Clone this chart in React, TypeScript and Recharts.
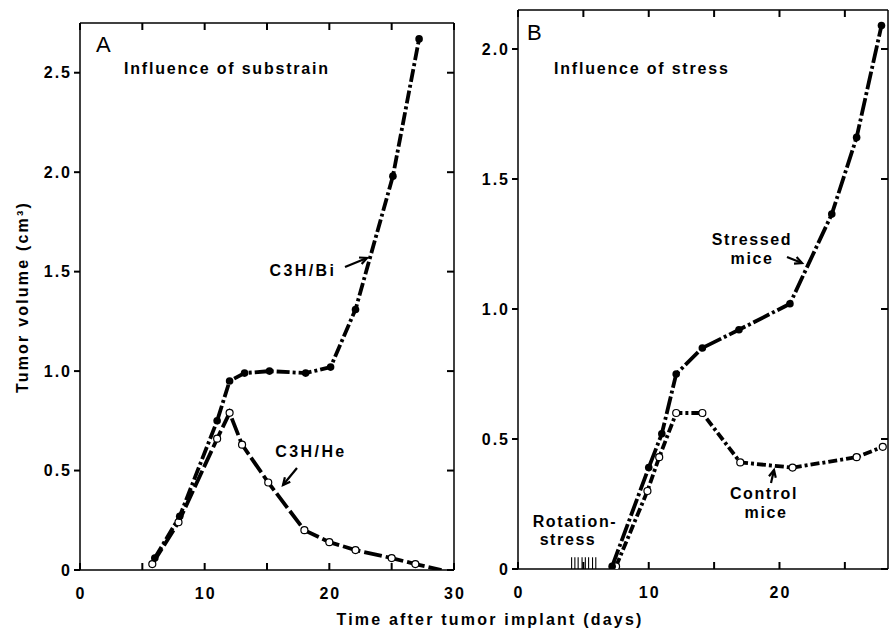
import React from 'react';
import { LineChart, Line, XAxis, YAxis, ReferenceLine } from 'recharts';

// Panel A - influence of substrain
const biDays = [6, 8, 11, 12, 13.2, 15.2, 18.1, 20.1, 22.1, 25.1, 27.2];
const biVolume = [0.06, 0.27, 0.75, 0.95, 0.99, 1.0, 0.99, 1.02, 1.31, 1.98, 2.67];
const heDays = [5.8, 7.9, 11, 12, 13, 15.1, 18, 20, 22.1, 25, 26.9, 29];
const heVolume = [0.03, 0.24, 0.66, 0.79, 0.63, 0.44, 0.2, 0.14, 0.1, 0.06, 0.03, 0];
const heMarked = [true, true, true, true, true, true, true, true, true, true, true, false];

// Panel B - influence of stress
const stressedDays = [7.2, 10, 11, 12.1, 14.1, 16.9, 20.8, 24, 25.9, 27.8];
const stressedVolume = [0.01, 0.39, 0.52, 0.75, 0.85, 0.92, 1.02, 1.365, 1.66, 2.09];
const controlDays = [7.5, 9.9, 10.8, 12.1, 14.1, 17, 21, 25.9, 27.9];
const controlVolume = [0.01, 0.3, 0.43, 0.6, 0.6, 0.41, 0.39, 0.43, 0.47];
const rotationStressDays = [4.1, 4.35, 4.6, 4.9, 5.15, 5.4, 5.7, 5.95];

// axes
const xTicksA = [0, 5, 10, 15, 20, 25, 30];
const xLabelsA = [0, 10, 20, 30];
const yTicksA = [0, 0.5, 1.0, 1.5, 2.0, 2.5];
const xTicksB = [0, 5, 10, 15, 20, 25];
const xLabelsB = [0, 10, 20];
const yTicksB = [0, 0.5, 1.0, 1.5, 2.0];

const biData = biDays.map((day, i) => ({ day, volume: biVolume[i] }));
const heData = heDays.map((day, i) => ({ day, volume: heVolume[i], marked: heMarked[i] }));
const stressedData = stressedDays.map((day, i) => ({ day, volume: stressedVolume[i] }));
const controlData = controlDays.map((day, i) => ({ day, volume: controlVolume[i] }));

const FONT = '"Liberation Sans", Arial, Helvetica, sans-serif';
const tickText = { fill: '#000', fontSize: 16, fontWeight: 700, fontFamily: FONT, letterSpacing: 2 } as const;
const axisStroke = { stroke: '#000', strokeWidth: 1.5 };
const TICK = 7;
const Y_AXIS_W = 50;
const X_AXIS_H = 30;

const fmtY = (v: number) => (v === 0 ? '0' : v.toFixed(1));

// bottom axis: inward tick + label; tickSize/tickMargin are 0 so y is the axis line
const bottomTick = (labels: number[]) => (props: any) => {
  const { x, y, payload, index } = props;
  const v = payload.value;
  return (
    <g key={`b-${index}`}>
      <path d={`M${x},${y}V${y - TICK}`} stroke="#000" strokeWidth={2} fill="none" />
      {labels.includes(v) && (
        <text x={x + 1} y={y + 29} textAnchor="middle" {...tickText}>{v}</text>
      )}
    </g>
  );
};

const FilledDot = (props: any) => {
  const { cx, cy, index } = props;
  if (cx == null || cy == null) return null;
  return <circle key={`f-${index}`} cx={cx} cy={cy} r={3.8} fill="#000" />;
};

const OpenDot = (props: any) => {
  const { cx, cy, index, payload } = props;
  if (cx == null || cy == null || payload?.marked === false) return null;
  return <circle key={`o-${index}`} cx={cx} cy={cy} r={3.5} fill="#fff" stroke="#000" strokeWidth={1.2} />;
};

const Arrow = ({ x1, y1, x2, y2 }: { x1: number; y1: number; x2: number; y2: number }) => {
  const a = Math.atan2(y2 - y1, x2 - x1);
  const len = 8;
  const spread = 0.45;
  const p1 = [x2 - len * Math.cos(a - spread), y2 - len * Math.sin(a - spread)];
  const p2 = [x2 - len * Math.cos(a + spread), y2 - len * Math.sin(a + spread)];
  return (
    <g>
      <line x1={x1} y1={y1} x2={x2} y2={y2} stroke="#000" strokeWidth={2.2} />
      <polyline points={`${p1[0]},${p1[1]} ${x2},${y2} ${p2[0]},${p2[1]}`} fill="none" stroke="#000" strokeWidth={2.2} />
    </g>
  );
};

type Frame = {
  width: number;
  height: number;
  margin: { top: number; right: number; bottom: number; left: number };
  xMax: number;
  yMax: number;
  xTicks: number[];
  xLabels: number[];
  yTicks: number[];
};

const frameA: Frame = {
  width: 470,
  height: 628,
  margin: { top: 23, right: 16, bottom: 28, left: 30 },
  xMax: 30,
  yMax: 2.75,
  xTicks: xTicksA,
  xLabels: xLabelsA,
  yTicks: yTicksA,
};

const frameB: Frame = {
  width: 429,
  height: 628,
  margin: { top: 10, right: 1, bottom: 29, left: 8 },
  xMax: 28.3,
  yMax: 2.15,
  xTicks: xTicksB,
  xLabels: xLabelsB,
  yTicks: yTicksB,
};

// tick length in data units
const tickDx = (f: Frame) => (TICK * f.xMax) / (f.width - f.margin.left - f.margin.right - Y_AXIS_W);
const tickDy = (f: Frame) => (TICK * f.yMax) / (f.height - f.margin.top - f.margin.bottom - X_AXIS_H);

const axesFor = (f: Frame) => [
  <XAxis
    key="xb"
    dataKey="day"
    type="number"
    domain={[0, f.xMax]}
    ticks={f.xTicks}
    interval={0}
    allowDataOverflow
    tick={bottomTick(f.xLabels)}
    tickSize={0}
    tickMargin={0}
    height={X_AXIS_H}
    axisLine={axisStroke}
    tickLine={false}
  />,
  <XAxis
    key="xt"
    xAxisId="top"
    orientation="top"
    mirror
    type="number"
    domain={[0, f.xMax]}
    ticks={f.xTicks}
    tick={false}
    height={1}
    axisLine={axisStroke}
    tickLine={false}
  />,
  <YAxis
    key="yl"
    type="number"
    domain={[0, f.yMax]}
    ticks={f.yTicks}
    interval={0}
    allowDataOverflow
    tickFormatter={fmtY}
    tick={tickText}
    tickSize={6}
    tickMargin={2}
    width={Y_AXIS_W}
    axisLine={axisStroke}
    tickLine={{ stroke: '#000', strokeWidth: 2 }}
  />,
  <YAxis
    key="yr"
    yAxisId="right"
    orientation="right"
    mirror
    type="number"
    domain={[0, f.yMax]}
    ticks={f.yTicks}
    tick={false}
    width={1}
    axisLine={axisStroke}
    tickLine={false}
  />,
];

const dyA = tickDy(frameA);
const dxA = tickDx(frameA);
const dyB = tickDy(frameB);
const dxB = tickDx(frameB);

const PanelA = () => (
  <LineChart width={frameA.width} height={frameA.height} margin={frameA.margin}>
    {axesFor(frameA)}
    {xTicksA.map((t) => (
      <ReferenceLine key={`at-${t}`} segment={[{ x: t, y: frameA.yMax - dyA }, { x: t, y: frameA.yMax }]} stroke="#000" strokeWidth={2} />
    ))}
    {yTicksA.map((t) => (
      <ReferenceLine key={`ar-${t}`} segment={[{ x: frameA.xMax - dxA, y: t }, { x: frameA.xMax, y: t }]} stroke="#000" strokeWidth={2} />
    ))}
    <Line
      data={heData}
      dataKey="volume"
      type="linear"
      stroke="#000"
      strokeWidth={3.8}
      strokeDasharray="18 4"
      dot={OpenDot}
      activeDot={false}
      isAnimationActive={false}
    />
    <Line
      data={biData}
      dataKey="volume"
      type="linear"
      stroke="#000"
      strokeWidth={3.8}
      strokeDasharray="13 3 3 3"
      dot={FilledDot}
      activeDot={false}
      isAnimationActive={false}
    />
  </LineChart>
);

const PanelB = () => (
  <LineChart width={frameB.width} height={frameB.height} margin={frameB.margin}>
    {axesFor(frameB)}
    {xTicksB.map((t) => (
      <ReferenceLine key={`bt-${t}`} segment={[{ x: t, y: frameB.yMax - dyB }, { x: t, y: frameB.yMax }]} stroke="#000" strokeWidth={2} />
    ))}
    {yTicksB.map((t) => (
      <ReferenceLine key={`br-${t}`} segment={[{ x: frameB.xMax - dxB, y: t }, { x: frameB.xMax, y: t }]} stroke="#000" strokeWidth={2} />
    ))}
    {rotationStressDays.map((d) => (
      <ReferenceLine
        key={d}
        segment={[{ x: d, y: 0 }, { x: d, y: 0.045 }]}
        stroke="#000"
        strokeWidth={1.1}
      />
    ))}
    <Line
      data={controlData}
      dataKey="volume"
      type="linear"
      stroke="#000"
      strokeWidth={3.8}
      strokeDasharray="9 3 3 3"
      dot={OpenDot}
      activeDot={false}
      isAnimationActive={false}
    />
    <Line
      data={stressedData}
      dataKey="volume"
      type="linear"
      stroke="#000"
      strokeWidth={3.8}
      strokeDasharray="18 3 3 3"
      dot={FilledDot}
      activeDot={false}
      isAnimationActive={false}
    />
  </LineChart>
);

const label = { fill: '#000', fontFamily: FONT, fontWeight: 700, fontSize: 16 } as const;

export default function App() {
  return (
    <div style={{ position: 'absolute', left: 0, top: 0, width: 889, height: 628, background: '#fff', overflow: 'hidden' }}>
      <div style={{ position: 'absolute', left: 0, top: 0 }}>
        <PanelA />
      </div>
      <div style={{ position: 'absolute', left: 460, top: 0 }}>
        <PanelB />
      </div>
      <svg width={889} height={628} style={{ position: 'absolute', left: 0, top: 0, pointerEvents: 'none' }}>
        <text x={96} y={52} fontFamily={FONT} fontSize={22} fill="#000">A</text>
        <text x={124} y={74} {...label} letterSpacing={1.8}>Influence of substrain</text>
        <text x={527} y={40} fontFamily={FONT} fontSize={22} fill="#000">B</text>
        <text x={554} y={74} {...label} letterSpacing={1.8}>Influence of stress</text>

        <text x={303} y={276} {...label} textAnchor="middle" letterSpacing={2.4}>C3H/Bi</text>
        <Arrow x1={345} y1={267} x2={367} y2={258} />
        <text x={311} y={457} {...label} textAnchor="middle" letterSpacing={2.4}>C3H/He</text>
        <Arrow x1={297} y1={468} x2={283} y2={485} />

        <text x={752} y={245} {...label} textAnchor="middle" letterSpacing={1.6}>Stressed</text>
        <text x={752} y={264} {...label} textAnchor="middle" letterSpacing={1.6}>mice</text>
        <Arrow x1={787} y1={257} x2={802} y2={263} />
        <text x={764} y={499} {...label} textAnchor="middle" letterSpacing={1.6}>Control</text>
        <text x={766} y={518} {...label} textAnchor="middle" letterSpacing={1.6}>mice</text>
        <Arrow x1={771} y1={483} x2={774} y2={470} />
        <text x={575} y={527} {...label} textAnchor="middle" letterSpacing={1.6}>Rotation-</text>
        <text x={568} y={545} {...label} textAnchor="middle" letterSpacing={1.6}>stress</text>

        <text x={490} y={625} {...label} textAnchor="middle" letterSpacing={2.2}>Time after tumor implant (days)</text>
        <text
          x={0}
          y={0}
          {...label}
          textAnchor="middle"
          letterSpacing={2.2}
          transform="translate(28 297) rotate(-90)"
        >
          Tumor volume (cm³)
        </text>
      </svg>
    </div>
  );
}
